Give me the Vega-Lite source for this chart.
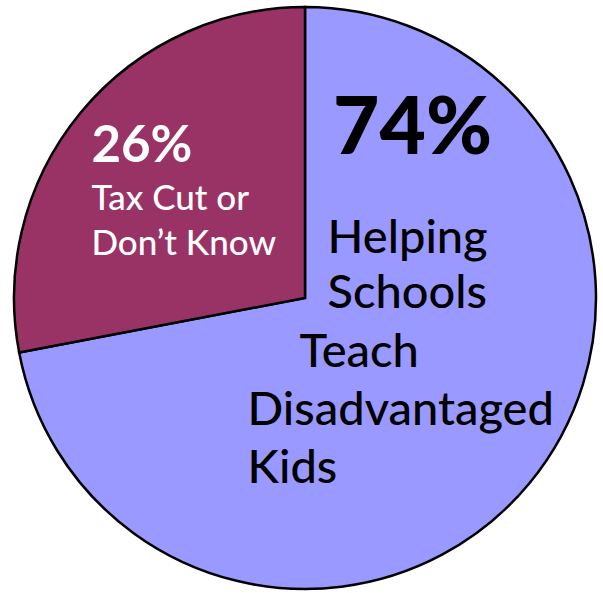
{
  "$schema": "https://vega.github.io/schema/vega-lite/v6.json",
  "width": 596,
  "height": 590,
  "autosize": "none",
  "padding": {"left": 7, "top": 3, "right": 0, "bottom": 0},
  "background": "white",
  "config": {"view": {"stroke": null}},
  "data": {
    "values": [
      {"answer": "Helping Schools Teach Disadvantaged Kids", "share": "74%", "drawn": 72, "l1": "Helping", "l2": "Schools", "l3": "Teach", "l4": "Disadvantaged", "l5": "Kids"},
      {"answer": "Tax Cut or Don’t Know", "share": "26%", "drawn": 28, "l1": "Tax Cut or", "l2": "Don’t Know", "l3": "", "l4": "", "l5": ""}
    ]
  },
  "encoding": {
    "theta": {"field": "drawn", "type": "quantitative", "stack": true},
    "order": {"field": "drawn", "type": "quantitative", "sort": "descending"}
  },
  "layer": [
    {
      "mark": {"type": "arc", "outerRadius": 291, "stroke": "black", "strokeWidth": 2.5},
      "encoding": {
        "color": {"field": "answer", "type": "nominal", "legend": null,
          "scale": {"domain": ["Helping Schools Teach Disadvantaged Kids", "Tax Cut or Don’t Know"], "range": ["#9999FF", "#993366"]}}
      }
    },
    {
      "mark": {"type": "text", "radius": 150, "font": "Lato", "fontWeight": 900, "fontSize": 80, "fill": "black", "align": "center", "baseline": "alphabetic", "dx": -8, "dy": -240},
      "encoding": {"detail": {"field": "answer"}, "text": {"condition": {"test": "datum.drawn < 50", "value": ""}, "field": "share"}}
    },
    {
      "mark": {"type": "text", "radius": 150, "font": "Lato", "fontWeight": "bold", "fontSize": 51, "fill": "white", "align": "left", "baseline": "alphabetic", "dx": -98, "dy": -40},
      "encoding": {"detail": {"field": "answer"}, "text": {"condition": {"test": "datum.drawn > 50", "value": ""}, "field": "share"}}
    },
    {
      "mark": {"type": "text", "radius": 150, "font": "Lato", "fontWeight": 500, "fontSize": 35, "fill": "white", "align": "left", "baseline": "alphabetic", "dx": -98, "dy": 8},
      "encoding": {"detail": {"field": "answer"}, "text": {"condition": {"test": "datum.drawn > 50", "value": ""}, "field": "l1"}}
    },
    {
      "mark": {"type": "text", "radius": 150, "font": "Lato", "fontWeight": 500, "fontSize": 35, "fill": "white", "align": "left", "baseline": "alphabetic", "dx": -98, "dy": 53},
      "encoding": {"detail": {"field": "answer"}, "text": {"condition": {"test": "datum.drawn > 50", "value": ""}, "field": "l2"}}
    },
    {
      "mark": {"type": "text", "radius": 150, "font": "Lato", "fontWeight": 500, "fontSize": 47, "fill": "black", "align": "left", "baseline": "alphabetic", "dx": -93, "dy": -141},
      "encoding": {"detail": {"field": "answer"}, "text": {"condition": {"test": "datum.drawn < 50", "value": ""}, "field": "l1"}}
    },
    {
      "mark": {"type": "text", "radius": 150, "font": "Lato", "fontWeight": 500, "fontSize": 47, "fill": "black", "align": "left", "baseline": "alphabetic", "dx": -93, "dy": -86},
      "encoding": {"detail": {"field": "answer"}, "text": {"condition": {"test": "datum.drawn < 50", "value": ""}, "field": "l2"}}
    },
    {
      "mark": {"type": "text", "radius": 150, "font": "Lato", "fontWeight": 500, "fontSize": 47, "fill": "black", "align": "left", "baseline": "alphabetic", "dx": -121, "dy": -27},
      "encoding": {"detail": {"field": "answer"}, "text": {"condition": {"test": "datum.drawn < 50", "value": ""}, "field": "l3"}}
    },
    {
      "mark": {"type": "text", "radius": 150, "font": "Lato", "fontWeight": 500, "fontSize": 47, "fill": "black", "align": "left", "baseline": "alphabetic", "dx": -173, "dy": 31},
      "encoding": {"detail": {"field": "answer"}, "text": {"condition": {"test": "datum.drawn < 50", "value": ""}, "field": "l4"}}
    },
    {
      "mark": {"type": "text", "radius": 150, "font": "Lato", "fontWeight": 500, "fontSize": 47, "fill": "black", "align": "left", "baseline": "alphabetic", "dx": -173, "dy": 89},
      "encoding": {"detail": {"field": "answer"}, "text": {"condition": {"test": "datum.drawn < 50", "value": ""}, "field": "l5"}}
    }
  ]
}
